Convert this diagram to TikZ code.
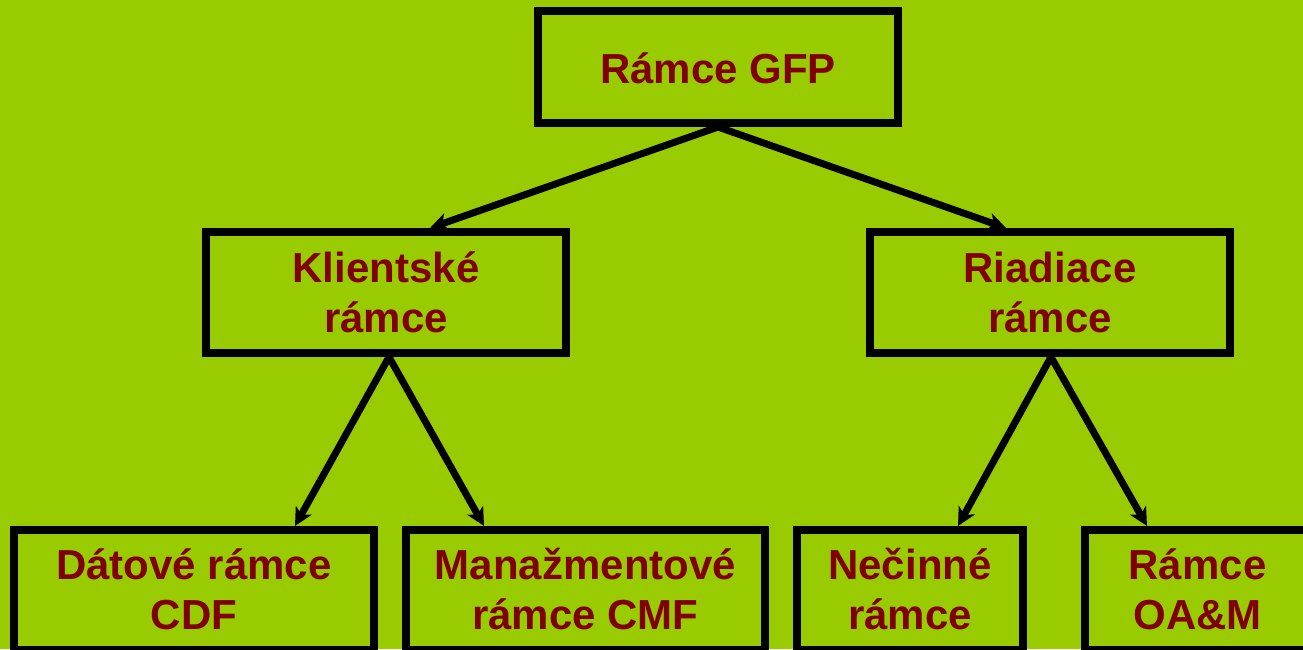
\documentclass[tikz,border=0pt]{standalone}
\usepackage{fontspec}
\setmainfont{Liberation Sans}
\usetikzlibrary{arrows.meta,calc}
\definecolor{bg}{HTML}{99CC00}
\definecolor{txt}{HTML}{800000}
\begin{document}
\begin{tikzpicture}[x=1pt,y=-1pt,
  box/.style={draw=black,line width=8pt,rectangle,inner sep=0pt},
  lbl/.style={anchor=base,inner sep=0pt,text=txt,font=\fontsize{42}{50}\selectfont\bfseries},
  arr/.style={line width=7pt,-{Stealth[length=18pt,width=18pt,inset=5pt]}}]
\fill[bg] (0,0) rectangle (1303,649);
\useasboundingbox (0,0) rectangle (1303,649);
\clip (0,0) rectangle (1303,649);
% boxes
\node[box,minimum width=360pt,minimum height=112pt] (gfp) at (718,67) {};
\node[box,minimum width=360pt,minimum height=121pt] (kl) at (386,292.5) {};
\node[box,minimum width=360pt,minimum height=121pt] (ri) at (1050,292.5) {};
\node[box,minimum width=360pt,minimum height=120pt] (dat) at (194,590) {};
\node[box,minimum width=359pt,minimum height=120pt] (man) at (585.5,590) {};
\node[box,minimum width=226pt,minimum height=120pt] (nec) at (910,590) {};
\node[box,minimum width=225pt,minimum height=120pt] (oam) at (1197.5,590) {};
% labels
\node[lbl] (gfpT) at (718,83) {Rámce GFP};
\node[lbl] (klT1) at (386,282) {Klientské};
\node[lbl] (klT2) at (386,332) {rámce};
\node[lbl] (riT1) at (1050,282) {Riadiace};
\node[lbl] (riT2) at (1050,332) {rámce};
\node[lbl] (datT1) at (194,579) {Dátové rámce};
\node[lbl] (datT2) at (194,629) {CDF};
\node[lbl] (manT1) at (585.5,579) {Manažmentové};
\node[lbl] (manT2) at (585.5,629) {rámce CMF};
\node[lbl] (necT1) at (910,579) {Nečinné};
\node[lbl] (necT2) at (910,629) {rámce};
\node[lbl] (oamT1) at (1197.5,579) {Rámce};
\node[lbl] (oamT2) at (1197.5,629) {OA\&M};
% connectors
\draw[arr] (gfp.south) -- ($(kl.north)+(44,0)$);
\draw[arr] (gfp.south) -- ($(ri.north)+(-44,0)$);
\draw[arr] ($(kl.south)+(3,0)$) -- ($(dat.north)+(101,0)$);
\draw[arr] ($(kl.south)+(3,0)$) -- ($(man.north)+(-101.5,0)$);
\draw[arr] ($(ri.south)+(1,0)$) -- ($(nec.north)+(48,0)$);
\draw[arr] ($(ri.south)+(1,0)$) -- ($(oam.north)+(-50.5,0)$);
\end{tikzpicture}
\end{document}
